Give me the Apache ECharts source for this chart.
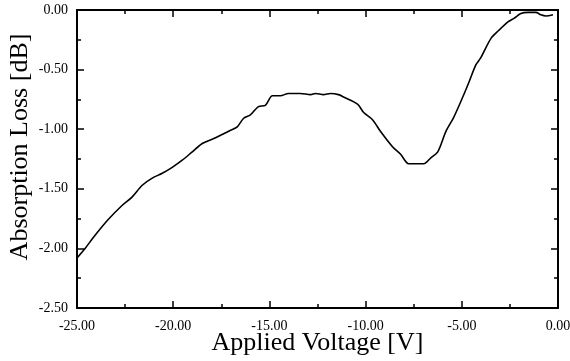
<!DOCTYPE html>
<html>
<head>
<meta charset="utf-8">
<script src="https://cdn.jsdelivr.net/npm/echarts@6/dist/echarts.min.js"></script>
<style>
  html, body { margin: 0; padding: 0; background: #fff; }
  #chart { width: 570px; height: 361px; }
</style>
</head>
<body>
<div id="chart"></div>
<script>
// curve: applied voltage [V] vs absorption loss [dB]
const voltage = [
  -25.0, -24.84, -24.58, -24.06, -23.39, -22.66, -22.14, -21.61, -21.09, -20.57,
  -20.05, -19.53, -19.01, -18.49, -17.92, -17.03, -16.67, -16.35, -15.99, -15.57,
  -15.21, -14.84, -14.43, -14.01, -13.39, -12.86, -12.60, -12.19, -11.82, -11.41,
  -11.15, -10.42, -10.10, -9.64, -9.22, -8.59, -8.18, -7.76, -7.40, -6.98,
  -6.61, -6.25, -5.83, -5.42, -4.95, -4.64, -4.27, -4.01, -3.49, -3.07,
  -2.60, -2.29, -1.93, -1.56, -1.15, -0.89, -0.63, -0.26
]
const loss = [
  -2.08, -2.05, -2.00, -1.89, -1.76, -1.64, -1.57, -1.47, -1.41, -1.37,
  -1.32, -1.26, -1.19, -1.12, -1.08, -1.01, -0.98, -0.91, -0.88, -0.81,
  -0.80, -0.72, -0.72, -0.70, -0.70, -0.71, -0.70, -0.71, -0.70, -0.71,
  -0.73, -0.79, -0.86, -0.92, -1.02, -1.15, -1.21, -1.29, -1.29, -1.29,
  -1.24, -1.19, -1.02, -0.90, -0.73, -0.61, -0.46, -0.40, -0.24, -0.17,
  -0.10, -0.07, -0.03, -0.02, -0.02, -0.04, -0.05, -0.04
]

const font = 'Liberation Serif, Times New Roman, serif'
const chart = echarts.init(document.getElementById('chart'))

const xBase = {
  type: 'value',
  min: -25,
  max: 0,
  interval: 5,
  axisLine: { show: true, onZero: false, lineStyle: { color: '#000', width: 2 } },
  axisTick: { show: true, inside: true, length: 7, lineStyle: { color: '#000', width: 1.5 } },
  minorTick: { show: true, splitNumber: 2, length: 4, lineStyle: { color: '#000', width: 1.5 } },
  splitLine: { show: false }
}
const yBase = {
  type: 'value',
  min: -2.5,
  max: 0,
  interval: 0.5,
  axisLine: { show: true, onZero: false, lineStyle: { color: '#000', width: 2 } },
  axisTick: { show: true, inside: true, length: 7, lineStyle: { color: '#000', width: 1.5 } },
  minorTick: { show: true, splitNumber: 2, length: 4, lineStyle: { color: '#000', width: 1.5 } },
  splitLine: { show: false }
}

const option = {
  animation: false,
  backgroundColor: '#fff',
  grid: { left: 77, right: 12, top: 10, bottom: 53, containLabel: false, outerBoundsMode: 'none' },
  xAxis: [
    Object.assign({}, xBase, {
      position: 'bottom',
      name: 'Applied Voltage [V]',
      nameLocation: 'middle',
      nameMoveOverlap: false,
      nameGap: 22,
      nameTextStyle: { fontFamily: font, fontSize: 26, color: '#000' },
      axisLabel: {
        margin: 11,
        fontFamily: font,
        fontSize: 14,
        color: '#000',
        formatter: (v) => v.toFixed(2)
      }
    }),
    Object.assign({}, xBase, {
      position: 'top',
      axisLabel: { show: false }
    })
  ],
  yAxis: [
    Object.assign({}, yBase, {
      position: 'left',
      name: 'Absorption Loss [dB]',
      nameLocation: 'middle',
      nameMoveOverlap: false,
      nameGap: 44,
      nameTextStyle: { fontFamily: font, fontSize: 26, color: '#000', padding: [0, 0, 0, 24] },
      axisLabel: {
        margin: 9,
        fontFamily: font,
        fontSize: 14,
        color: '#000',
        formatter: (v) => v.toFixed(2)
      }
    }),
    Object.assign({}, yBase, {
      position: 'right',
      axisLabel: { show: false }
    })
  ],
  series: [{
    type: 'line',
    data: voltage.map((v, i) => [v, loss[i]]),
    showSymbol: false,
    smooth: 0.3,
    lineStyle: { color: '#000', width: 1.6 },
    xAxisIndex: 0,
    yAxisIndex: 0
  }]
}

chart.setOption(option)
</script>
</body>
</html>
